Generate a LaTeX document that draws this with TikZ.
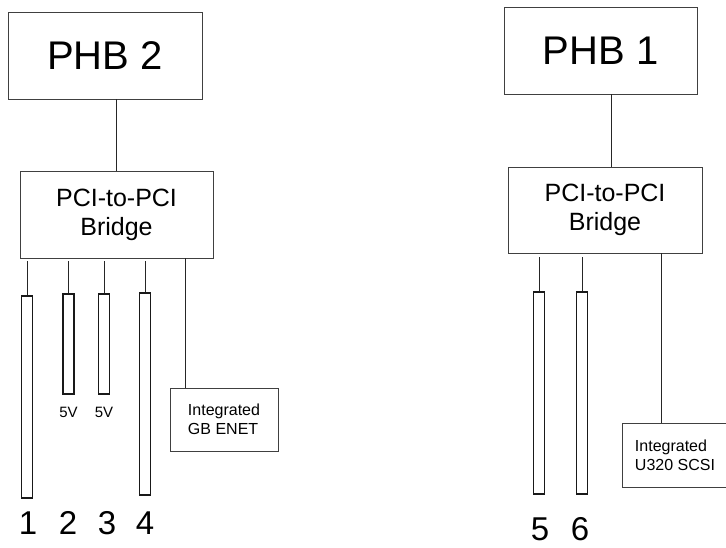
\documentclass[tikz,border=0pt]{standalone}
\usepackage{fontspec}
\setmainfont{Liberation Sans}

\tikzset{
  hostbox/.style={draw=black!75, line width=0.6pt, rectangle, inner sep=0pt},
  slotbox/.style={draw=black!90, line width=1.1pt, rectangle, inner sep=0pt, minimum width=11pt},
  wire/.style={draw=black!85, line width=0.9pt},
  num/.style={inner sep=0pt, font=\fontsize{33}{33}\selectfont},
  volt/.style={inner sep=0pt, font=\fontsize{15}{15}\selectfont},
  onboard/.style={hostbox, align=left, font=\fontsize{16}{19}\selectfont}
}

\begin{document}
\begin{tikzpicture}[x=1pt, y=-1pt]
                \useasboundingbox (0,0) rectangle (726,548);
                % left hand side
                \node[hostbox, minimum width=194pt, minimum height=87pt, font=\fontsize{40}{40}\selectfont] (phb2) at (105,55.5) {PHB 2};
                \node[hostbox, minimum width=193pt, minimum height=87pt, align=center, font=\fontsize{25}{29}\selectfont] (bridge2) at (116.5,214.5) {PCI-to-PCI\\Bridge};
                \node[slotbox, minimum height=202pt] (slot1) at (27,397) {};
                \node[slotbox, minimum height=100pt] (slot2) at (68.5,344) {};
                \node[slotbox, minimum height=100pt] (slot3) at (104,344) {};
                \node[slotbox, minimum height=202pt] (slot4) at (145,394) {};
                \node[onboard, minimum width=108pt, minimum height=63pt] (enet) at (224,419.5) {Integrated\\GB ENET};
                \draw[wire] (bridge2.north) -- (bridge2.north |- phb2.south);
                \foreach \s in {slot1,slot2,slot3,slot4}
                  \draw[wire, shorten >=3pt] (\s.north) -- (\s.north |- bridge2.south);
                \draw[wire] (enet.north -| 185,0) -- (185,0 |- bridge2.south);
                \node[volt] (v2) at (68.5,412) {5V};
                \node[volt] (v3) at (104,412) {5V};
                \node[num] (n1) at (28,523) {1};
                \node[num] (n2) at (68,523) {2};
                \node[num] (n3) at (107,523) {3};
                \node[num] (n4) at (145,523) {4};
                % right hand side
                \node[hostbox, minimum width=193pt, minimum height=87pt, font=\fontsize{40}{40}\selectfont] (phb1) at (600.5,50.5) {PHB 1};
                \node[hostbox, minimum width=194pt, minimum height=86pt, align=center, font=\fontsize{25}{29}\selectfont] (bridge1) at (605,210) {PCI-to-PCI\\Bridge};
                \node[slotbox, minimum height=202pt] (slot5) at (539,393) {};
                \node[slotbox, minimum height=202pt] (slot6) at (582,393) {};
                \node[onboard, minimum width=106pt, minimum height=64pt] (scsi) at (675,455) {Integrated\\U320 SCSI};
                \draw[wire] ([xshift=6pt]bridge1.north) -- ([xshift=6pt]bridge1.north |- phb1.south);
                \foreach \s in {slot5,slot6}
                  \draw[wire, shorten >=4pt] (\s.north) -- (\s.north |- bridge1.south);
                \draw[wire] (scsi.north -| 661,0) -- (661,0 |- bridge1.south);
                \node[num] (n5) at (540,529) {5};
                \node[num] (n6) at (580,529) {6};
            \end{tikzpicture}
\end{document}
